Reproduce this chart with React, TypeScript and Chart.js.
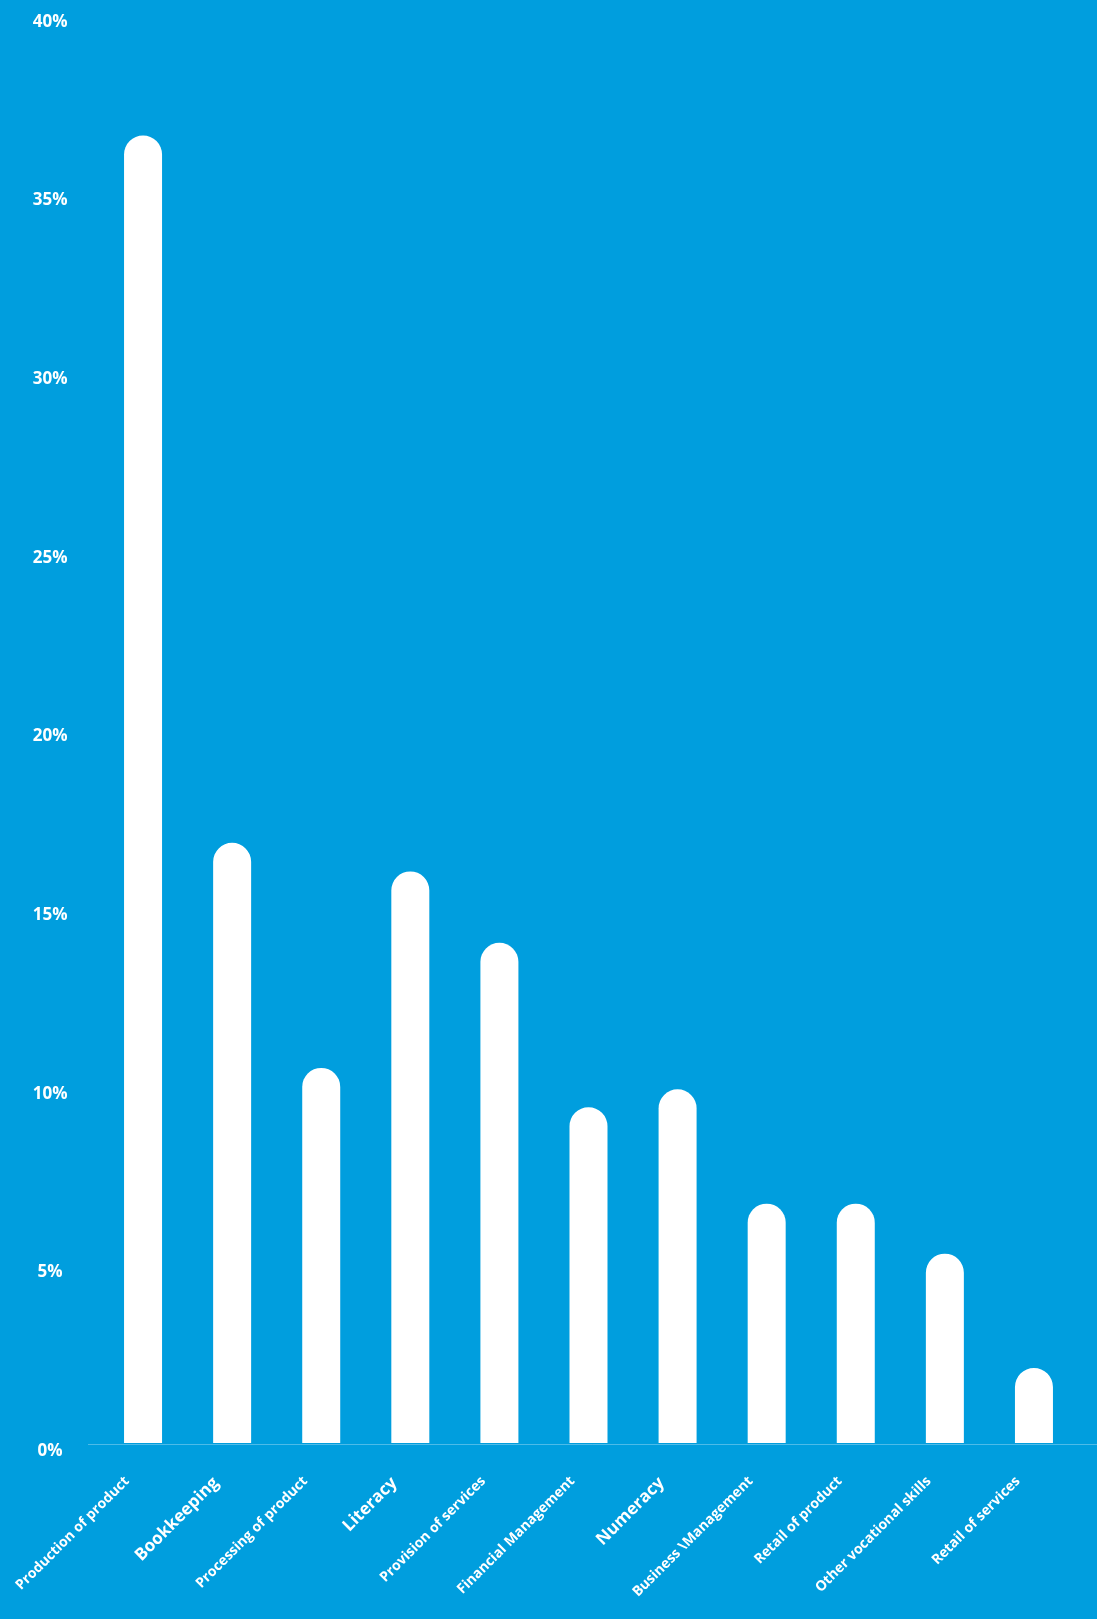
import React, { useEffect, useRef } from 'react';
import { Chart, registerables } from 'chart.js';

Chart.register(...registerables);

const categories = [
  'Production of product',
  'Bookkeeping',
  'Processing of product',
  'Literacy',
  'Provision of services',
  'Financial Management',
  'Numeracy',
  'Business \\Management',
  'Retail of product',
  'Other vocational skills',
  'Retail of services',
];
const values = [36.6, 16.8, 10.5, 16.0, 14.0, 9.4, 9.9, 6.7, 6.7, 5.3, 2.1];
const largeLabels = ['Bookkeeping', 'Literacy', 'Numeracy'];
const yMin = 0;
const yMax = 40;
const yStep = 5;

const BG = '#009EDE';

export default function App() {
  const ref = useRef<HTMLCanvasElement | null>(null);

  useEffect(() => {
    document.body.style.margin = '0';
    document.body.style.background = BG;
    const canvas = ref.current;
    if (!canvas) return;

    const bgPlugin = {
      id: 'bg',
      beforeDraw(chart: any) {
        const { ctx, width, height } = chart;
        ctx.save();
        ctx.fillStyle = BG;
        ctx.fillRect(0, 0, width, height);
        ctx.restore();
      },
      beforeDatasetsDraw(chart: any) {
        const { ctx } = chart;
        const y = Math.round(chart.scales.y.getPixelForValue(0)) + 0.5;
        ctx.save();
        ctx.strokeStyle = 'rgba(255,255,255,0.3)';
        ctx.lineWidth = 1;
        ctx.beginPath();
        ctx.moveTo(88, y + 1);
        ctx.lineTo(chart.width, y + 1);
        ctx.stroke();
        ctx.restore();
      },
    };

    const chart = new Chart(canvas, {
      type: 'bar',
      data: {
        labels: categories,
        datasets: [
          {
            data: values,
            backgroundColor: '#FFFFFF',
            borderWidth: 0,
            borderRadius: 19,
            borderSkipped: 'start',
            barPercentage: 0.4265,
            categoryPercentage: 1,
          },
        ],
      },
      options: {
        responsive: false,
        animation: false,
        devicePixelRatio: 1,
        layout: { padding: { left: 0, right: 18.5, top: 14, bottom: 0 } },
        plugins: {
          legend: { display: false },
          tooltip: { enabled: false },
        },
        scales: {
          x: {
            grid: { display: false, drawTicks: false },
            border: { display: false },
            ticks: {
              color: '#FFFFFF',
              minRotation: 45,
              maxRotation: 45,
              autoSkip: false,
              padding: 30,
              labelOffset: -16,
              font: (c: any) => {
                const lbl = categories[c.index];
                const big = largeLabels.includes(lbl);
                return {
                  family: '"Open Sans", sans-serif',
                  size: big ? 17 : 14,
                  weight: 'bold',
                };
              },
            },
            afterFit(scale: any) {
              scale.height = 176;
              scale.paddingLeft = 0;
              scale.paddingRight = 0;
            },
          },
          y: {
            min: yMin,
            max: yMax,
            grid: { display: false, drawTicks: false },
            border: { display: false },
            ticks: {
              stepSize: yStep,
              color: '#FFFFFF',
              crossAlign: 'center',
              padding: 31,
              labelOffset: 8,
              font: { family: '"Open Sans", sans-serif', size: 17, weight: 'bold' },
              callback: (v: any) => v + '%',
            },
            afterFit(scale: any) {
              scale.width = 98.5;
              scale.paddingTop = 0;
              scale.paddingBottom = 0;
            },
          },
        },
      },
      plugins: [bgPlugin],
    });

    return () => chart.destroy();
  }, []);

  return (
    <div style={{ width: 1097, height: 1619, background: BG }}>
      <canvas ref={ref} width={1097} height={1619} style={{ display: 'block', width: 1097, height: 1619 }} />
    </div>
  );
}
